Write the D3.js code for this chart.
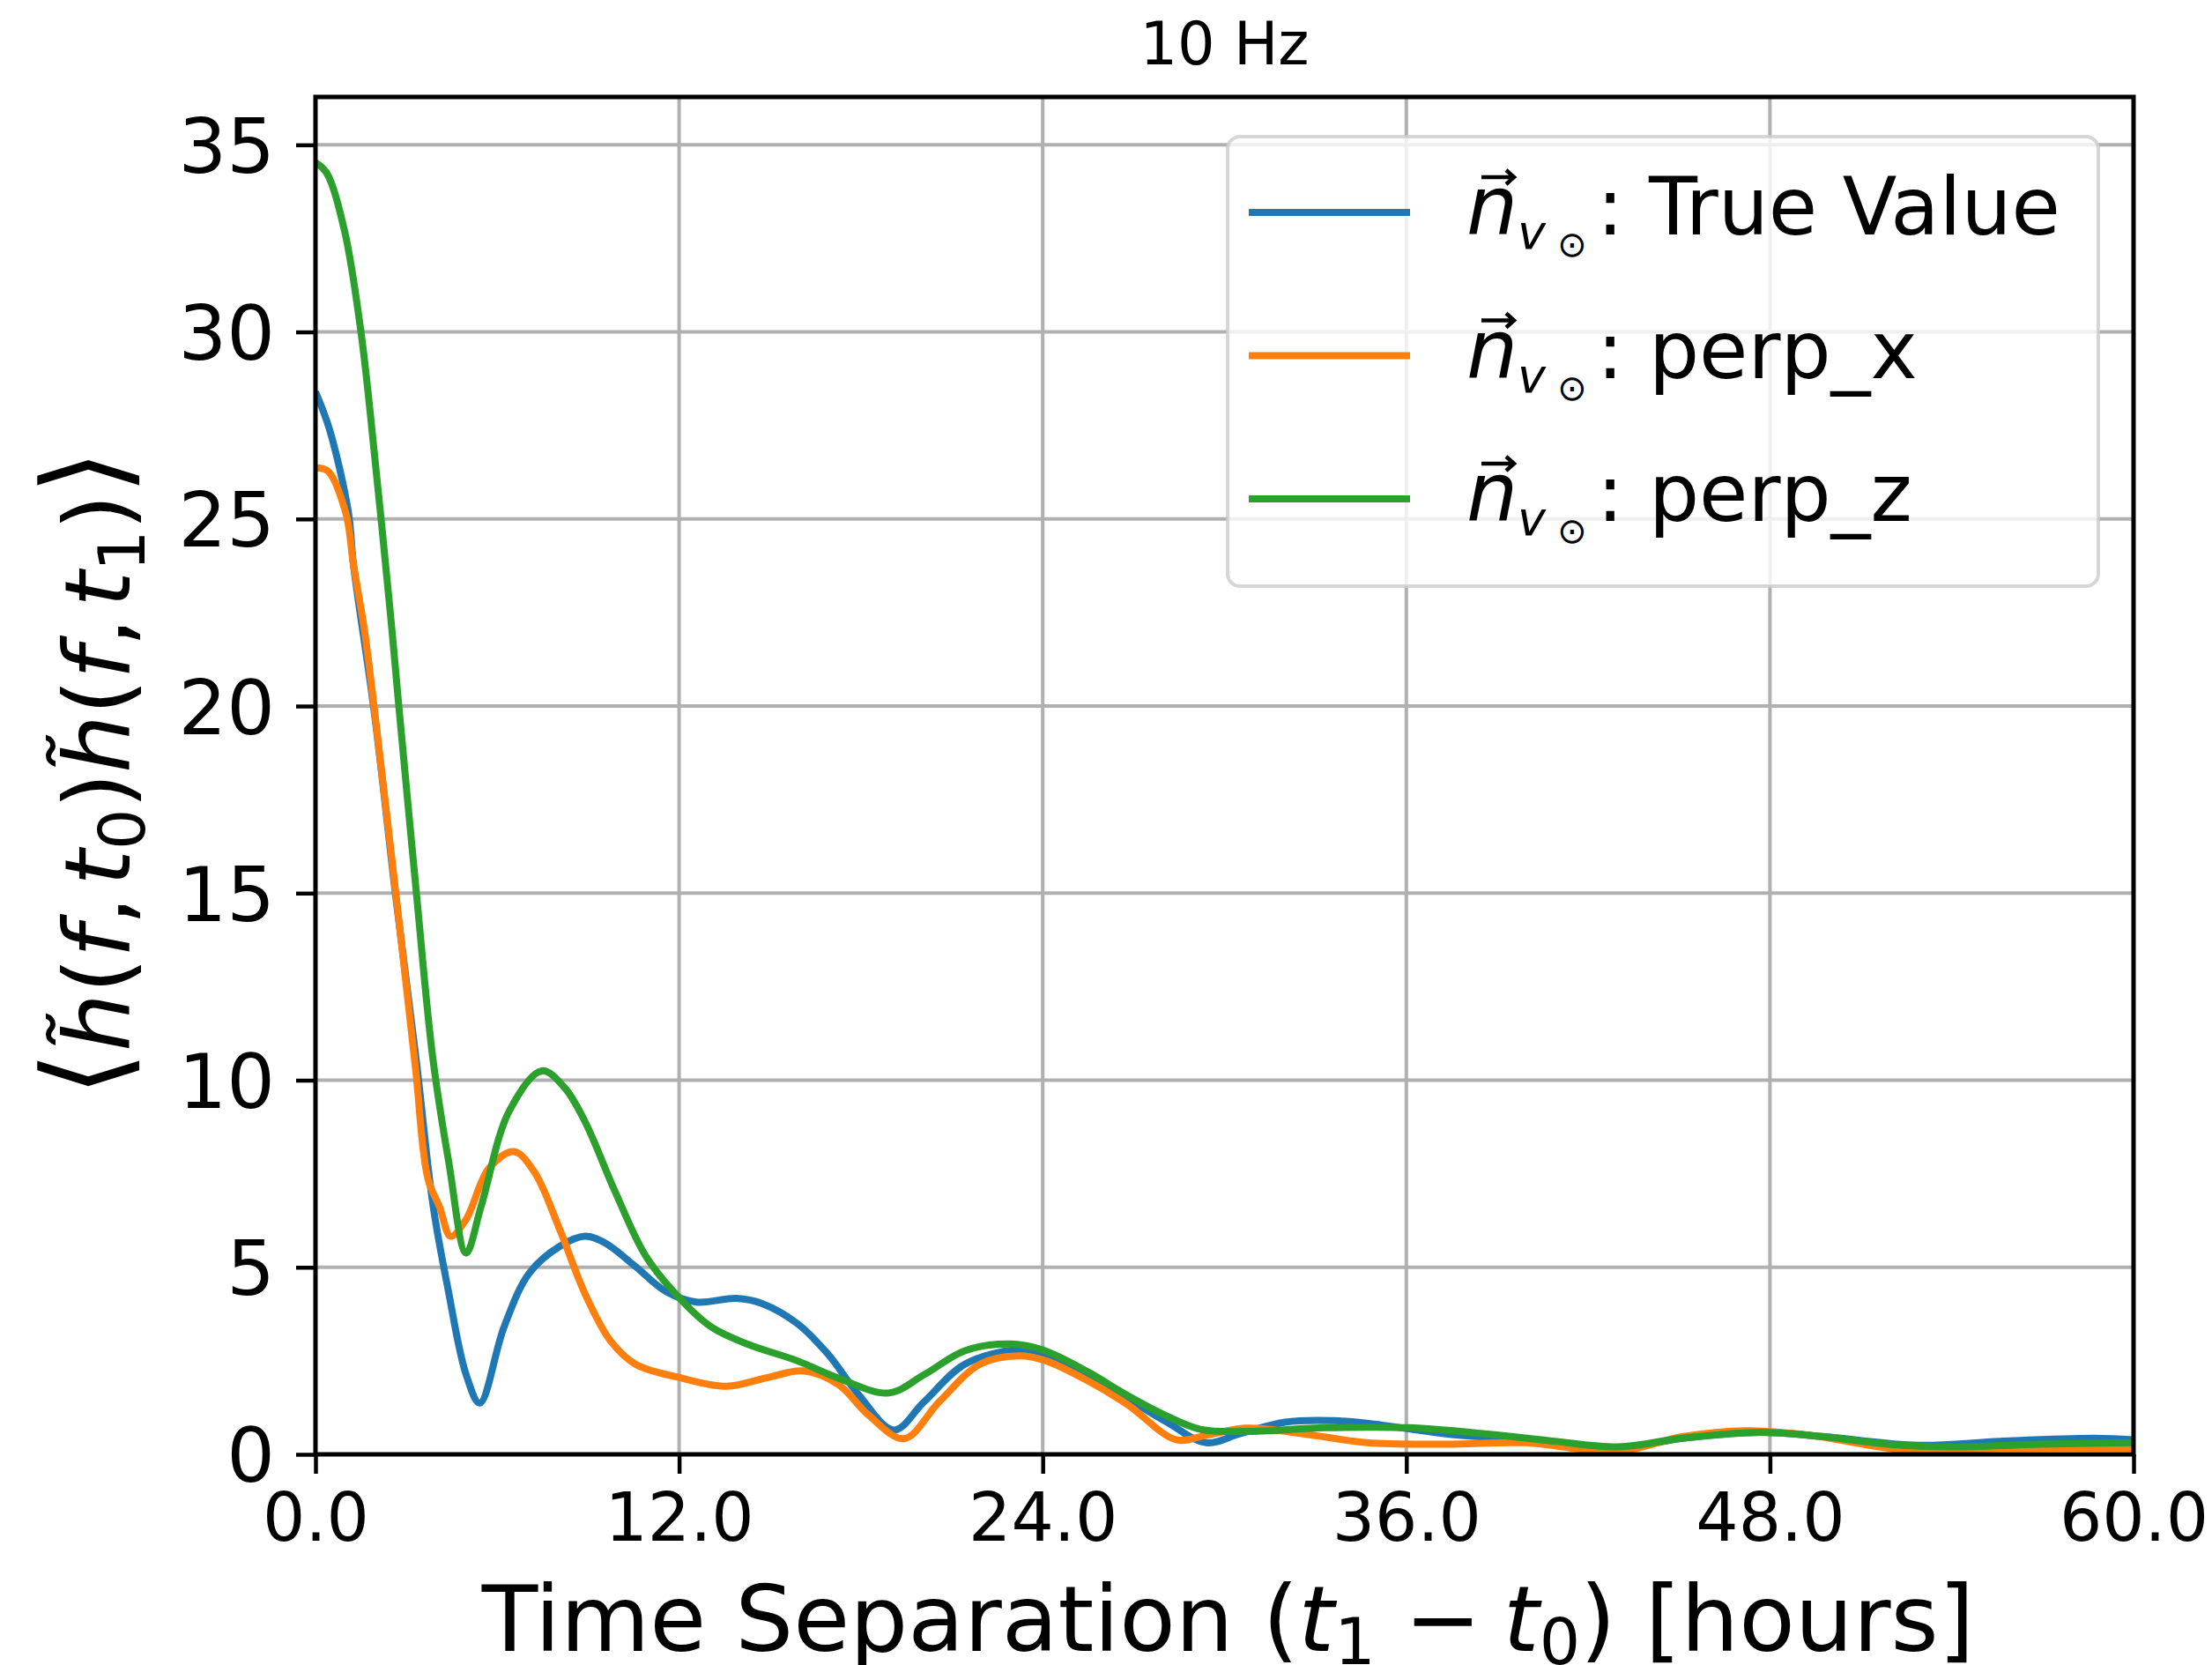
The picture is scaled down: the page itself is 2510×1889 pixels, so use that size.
<!DOCTYPE html>
<html><head><meta charset="utf-8">
<script src="https://cdn.jsdelivr.net/npm/d3@7"></script>
<style>html,body{margin:0;padding:0;background:#fff;} svg{display:block;}</style>
</head><body>
<script>
// ---------- data ----------
const titleText = "10 Hz";
const xTicks = [0, 12, 24, 36, 48, 60];
const xTickLabels = ["0.0", "12.0", "24.0", "36.0", "48.0", "60.0"];
const yTicks = [0, 5, 10, 15, 20, 25, 30, 35];
const yTickLabels = ["0", "5", "10", "15", "20", "25", "30", "35"];
const seriesLabels = ["True Value", "perp_x", "perp_z"];
const seriesColors = ["#1f77b4", "#ff7f0e", "#2ca02c"];

const blueHours = [0, 0.46, 1.09, 1.25, 1.93, 2.65, 3.33, 3.88, 4.38, 4.97, 5.42, 6.22, 7.05, 8.06, 8.89, 9.56, 10.56, 11.57, 12.57, 13.9, 14.74, 15.91, 16.91, 17.92, 19.09, 20.09, 21.43, 23.1, 24.0, 25.5, 26.8, 28.1, 29.4, 30.5, 32.0, 33.6, 35.2, 37.3, 39.9, 43.0, 45.1, 47.7, 49.8, 52.9, 55.6, 58.7, 60];
const blueValues = [28.4, 27.4, 25.16, 23.8, 19.9, 14.9, 10.5, 6.65, 4.39, 2.13, 1.37, 3.40, 4.84, 5.56, 5.83, 5.65, 5.02, 4.35, 4.07, 4.17, 4.03, 3.49, 2.68, 1.6, 0.65, 1.41, 2.41, 2.79, 2.71, 2.12, 1.49, 0.86, 0.31, 0.55, 0.86, 0.9, 0.78, 0.55, 0.39, 0.16, 0.43, 0.59, 0.47, 0.24, 0.35, 0.43, 0.39];

const orangeHours = [0, 0.41, 1.0, 1.25, 1.62, 1.93, 2.65, 3.29, 3.71, 4.1, 4.46, 4.97, 5.72, 6.55, 7.22, 8.06, 8.89, 9.73, 10.56, 12.02, 13.57, 14.91, 16.08, 17.25, 18.25, 19.42, 20.59, 21.93, 23.2, 24.1, 25.5, 26.8, 28.4, 29.4, 30.7, 32.6, 34.7, 37.3, 39.9, 43.0, 45.1, 47.2, 49.3, 52.4, 55.6, 60];
const orangeValues = [26.37, 26.28, 25.16, 23.8, 22.0, 20.0, 15.0, 10.4, 7.37, 6.6, 5.83, 6.28, 7.64, 8.09, 7.55, 6.01, 4.3, 3.04, 2.41, 2.05, 1.82, 2.05, 2.23, 1.87, 1.05, 0.42, 1.41, 2.41, 2.63, 2.5, 1.96, 1.33, 0.39, 0.51, 0.7, 0.55, 0.31, 0.27, 0.31, 0.08, 0.47, 0.63, 0.51, 0.12, 0.16, 0.16];

const greenHours = [0, 0.36, 0.95, 1.5, 2.0, 2.48, 2.75, 3.33, 3.87, 4.4, 4.97, 5.47, 6.39, 7.47, 8.22, 8.89, 9.9, 10.9, 12.02, 13.07, 14.24, 15.9, 17.25, 18.92, 20.09, 21.43, 22.93, 24.0, 25.5, 26.8, 28.1, 29.2, 30.7, 33.35, 36.1, 38.6, 40.9, 43.0, 45.1, 47.7, 49.8, 51.9, 54.0, 56.9, 60];
const greenValues = [34.53, 34.26, 32.73, 30.0, 26.3, 22.4, 20.0, 15.0, 10.6, 7.8, 5.38, 6.64, 9.17, 10.25, 9.8, 8.9, 7.0, 5.3, 4.17, 3.4, 2.95, 2.5, 2.04, 1.64, 2.13, 2.77, 2.95, 2.79, 2.2, 1.57, 1.02, 0.67, 0.61, 0.71, 0.71, 0.55, 0.35, 0.2, 0.43, 0.59, 0.47, 0.27, 0.2, 0.27, 0.31];

// ---------- layout ----------
const W = 2510, H = 1889;
const L = 358, R = 2421, T = 110, B = 1650;
const FONT = "DejaVu Sans, Verdana, sans-serif";

const series = [
  {hours: blueHours, values: blueValues},
  {hours: orangeHours, values: orangeValues},
  {hours: greenHours, values: greenValues}
].map((s, i) => ({label: seriesLabels[i], color: seriesColors[i],
  points: s.hours.map((h, j) => [h, s.values[j]])}));

const x = d3.scaleLinear().domain([0, 60]).range([L, R]);
const y = d3.scaleLinear().domain([0, 36.28]).range([B, T]);

const svg = d3.select("body").append("svg")
  .attr("width", W).attr("height", H)
  .style("font-family", FONT);
svg.append("rect").attr("width", W).attr("height", H).attr("fill", "#fff");

// grid
const grid = svg.append("g");
grid.selectAll("line.gx").data(xTicks).join("line")
  .attr("x1", d => x(d)).attr("x2", d => x(d)).attr("y1", T).attr("y2", B)
  .attr("stroke", "#b0b0b0").attr("stroke-width", 4);
grid.selectAll("line.gy").data(yTicks).join("line")
  .attr("y1", d => y(d)).attr("y2", d => y(d)).attr("x1", L).attr("x2", R)
  .attr("stroke", "#b0b0b0").attr("stroke-width", 4);

// clip
svg.append("clipPath").attr("id", "clip").append("rect")
  .attr("x", L).attr("y", T).attr("width", R - L).attr("height", B - T);

const line = d3.line().x(d => x(d[0])).y(d => y(d[1]))
  .curve(d3.curveCatmullRom.alpha(0.5));
svg.append("g").attr("clip-path", "url(#clip)")
  .selectAll("path").data(series).join("path")
  .attr("d", d => line(d.points))
  .attr("fill", "none").attr("stroke", d => d.color)
  .attr("stroke-width", 8).attr("stroke-linejoin", "round").attr("stroke-linecap", "butt");

// axes
const xAxis = d3.axisBottom(x).tickValues(xTicks).tickFormat((d, i) => xTickLabels[i])
  .tickSize(22).tickPadding(14);
const gx = svg.append("g").attr("transform", `translate(0,${B})`).call(xAxis);
gx.select(".domain").remove();
gx.selectAll(".tick line").attr("stroke", "#000").attr("stroke-width", 4.5);
gx.selectAll(".tick text").attr("font-size", 76).attr("font-family", FONT).attr("fill", "#000")
  .attr("dy", null).attr("y", 98);

const yAxis = d3.axisLeft(y).tickValues(yTicks).tickFormat((d, i) => yTickLabels[i])
  .tickSize(22).tickPadding(24);
const gy = svg.append("g").attr("transform", `translate(${L},0)`).call(yAxis);
gy.select(".domain").remove();
gy.selectAll(".tick line").attr("stroke", "#000").attr("stroke-width", 4.5);
gy.selectAll(".tick text").attr("font-size", 86).attr("font-family", FONT).attr("fill", "#000")
  .attr("dy", "0.36em");

// spines
svg.append("rect").attr("x", L).attr("y", T).attr("width", R - L).attr("height", B - T)
  .attr("fill", "none").attr("stroke", "#000").attr("stroke-width", 5);

// title
svg.append("text").attr("x", (L + R) / 2).attr("y", 73).attr("text-anchor", "middle")
  .attr("font-size", 67).text(titleText);

// x label
const xl = svg.append("text").attr("x", (L + R) / 2 + 4).attr("y", 1873)
  .attr("text-anchor", "middle").attr("font-size", 104);
xl.append("tspan").text("Time Separation (");
xl.append("tspan").attr("font-style", "italic").text("t");
xl.append("tspan").attr("font-size", 73).attr("dy", 15).text("1");
xl.append("tspan").attr("dy", -15).text(" \u2212 ");
xl.append("tspan").attr("font-style", "italic").attr("dx", -8).text("t");
xl.append("tspan").attr("font-size", 73).attr("dy", 15).text("0");
xl.append("tspan").attr("dy", -15).text(") [hours]");

// y label (rotated text)
const yl = svg.append("text").attr("x", 0).attr("y", 0)
  .attr("transform", "translate(147,877) rotate(-90)")
  .attr("text-anchor", "middle").attr("font-size", 104);
function yPart(txt, opts = {}) {
  const t = yl.append("tspan").text(txt);
  if (opts.it) t.attr("font-style", "italic");
  if (opts.fs) t.attr("font-size", opts.fs);
  if (opts.dy) t.attr("dy", opts.dy);
  if (opts.dx) t.attr("dx", opts.dx);
}
yPart("\u27E8", {fs: 130, dy: -6});
yPart("h\u0303", {it: true, dy: 6});
yPart("(");
yPart("f", {it: true});
yPart(",");
yPart("t", {it: true, dx: 12});
yPart("0", {fs: 73, dy: 17});
yPart(")", {dy: -17});
yPart("h\u0303", {it: true});
yPart("(");
yPart("f", {it: true});
yPart(",");
yPart("t", {it: true, dx: 12});
yPart("1", {fs: 73, dy: 17});
yPart(")", {dy: -17});
yPart("\u27E9", {fs: 130, dy: -6});

// legend
const lg = svg.append("g");
lg.append("rect").attr("x", 1393).attr("y", 155).attr("width", 988).attr("height", 510)
  .attr("rx", 14).attr("fill", "#fff").attr("fill-opacity", 0.8)
  .attr("stroke", "#cccccc").attr("stroke-opacity", 0.8).attr("stroke-width", 4);
const items = lg.selectAll("g.item").data(series).join("g")
  .attr("transform", (d, i) => `translate(0,${241 + i * 162.5})`);
items.append("line").attr("x1", 1417).attr("x2", 1600).attr("y1", 0).attr("y2", 0)
  .attr("stroke", d => d.color).attr("stroke-width", 8);
// vector accent over n
items.append("path").attr("d", "M1681,-40H1718M1709,-48L1718,-40L1709,-32")
  .attr("fill", "none").attr("stroke", "#000").attr("stroke-width", 4.5)
  .attr("stroke-linejoin", "miter");
const lt = items.append("text").attr("y", 25).attr("font-size", 90);
lt.append("tspan").attr("x", 1664).attr("font-style", "italic").attr("font-size", 92).text("n");
lt.append("tspan").attr("x", 1722).attr("dy", 16).attr("font-style", "italic").attr("font-size", 54).text("v");
lt.append("tspan").attr("x", 1767).attr("dy", 9).attr("font-size", 40).text("\u2299");
lt.append("tspan").attr("x", 1812).attr("dy", -25).text(d => ": " + d.label);
</script>
</body></html>
